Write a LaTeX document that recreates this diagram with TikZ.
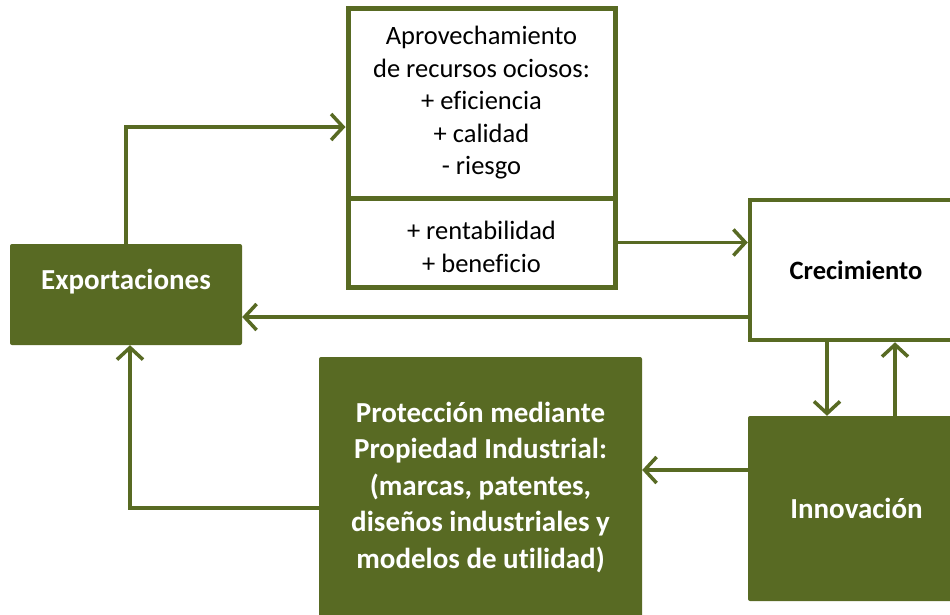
\documentclass[tikz,border=0pt]{standalone}
\usepackage{fontspec}
\setmainfont[Ligatures=NoCommon]{Carlito}
\usetikzlibrary{arrows.meta}
\definecolor{olive}{RGB}{88,106,35}
\tikzset{
  darkbox/.style={fill=olive, draw=none, rounded corners=2pt, inner sep=0pt},
  whitebox/.style={draw=olive, line width=5pt, fill=white, inner sep=0pt, align=center,
     font=\fontsize{26.5}{32.5}\selectfont},
  plaintext/.style={align=center, inner sep=0pt, font=\fontsize{26.5}{32.5}\selectfont},
  wbold/.style={text=white, align=center, font=\fontsize{29}{36.5}\selectfont\bfseries},
  conn/.style={draw=olive, line width=3.5pt, -{Straight Barb[length=12pt,width=26pt,line width=3.5pt]}},
}
\begin{document}
\begin{tikzpicture}[x=1pt,y=-1pt]
\clip (0,0) rectangle (950,614);
\fill[white] (0,0) rectangle (950,614);
% boxes
\node[darkbox, minimum width=232pt, minimum height=101pt] (exp) at (126,294.5) {};
\node[wbold] (explabel) at ([yshift=13pt]exp.center) {Exportaciones};
\node[whitebox, minimum width=267pt, minimum height=190pt] (top) at (481.5,103)
  {Aprovechamiento\\de recursos ociosos:\\+ eficiencia\\+ calidad\\- riesgo};
\node[whitebox, minimum width=267pt, minimum height=89pt] (low) at (481.5,242.5) {};
\node[plaintext] (lowtext) at ([yshift=-4.5pt]low.center) {+ rentabilidad\\+ beneficio};
\node[whitebox, line width=4.5pt, minimum width=212pt, minimum height=140pt, font=\fontsize{26.5}{32}\selectfont\bfseries] (cre) at (856,270) {Crecimiento};
\node[darkbox, minimum width=217pt, minimum height=185pt, wbold] (inn) at (856.5,508.5) {Innovación};
\node[darkbox, minimum width=323pt, minimum height=261pt, wbold] (pro) at (480.5,487.5)
  {Protección mediante\\Propiedad Industrial:\\(marcas, patentes,\\diseños industriales y\\modelos de utilidad)};
% connectors
\draw[conn] (exp.north) |- ([yshift=-24pt]top.west);
\draw[conn] (low.east) -- (low.east -| cre.west);
\draw[conn] ([yshift=-47pt]cre.west) coordinate (c1) -- (c1 -| exp.east);
\draw[conn] ([xshift=-29pt]cre.south) coordinate (c2) -- (c2 |- inn.north);
\draw[conn] ([xshift=38.5pt]inn.north) coordinate (c3) -- (c3 |- cre.south);
\draw[conn] ([yshift=38.5pt]inn.west) coordinate (c4) -- (c4 -| pro.east);
\draw[conn] ([yshift=-20.5pt]pro.west) -| ([xshift=4pt]exp.south);
\end{tikzpicture}
\end{document}
